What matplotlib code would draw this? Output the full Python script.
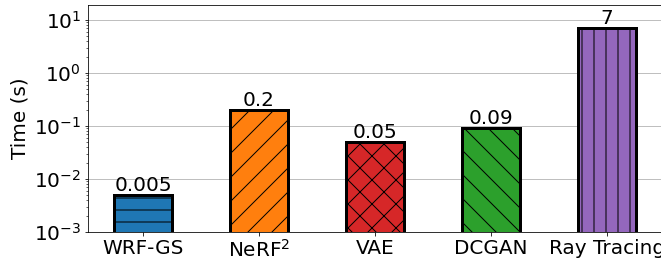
import matplotlib
matplotlib.use("Agg")
import matplotlib.pyplot as plt

methods = ["WRF-GS", "NeRF$^2$", "VAE", "DCGAN", "Ray Tracing"]
times = [0.005, 0.2, 0.05, 0.09, 7]
value_labels = ["0.005", "0.2", "0.05", "0.09", "7"]
colors = ["#1f77b4", "#ff7f0e", "#d62728", "#2ca02c", "#9467bd"]
hatches = ["-", "/", "x", "\\", "|"]

DPI = 72
FS = 20
fig = plt.figure(figsize=(661 / DPI, 261 / DPI), dpi=DPI)
ax = fig.add_axes([88 / 661, 29 / 261, (661 - 88) / 661 + 0.001, (232 - 5) / 261])

x = range(len(methods))
bars = ax.bar(x, times, width=0.5, color=colors, edgecolor="black",
              linewidth=3, zorder=3)
for b, h in zip(bars, hatches):
    b.set_hatch(h)

for b, lab in zip(bars, value_labels):
    ax.text(b.get_x() + b.get_width() / 2, b.get_height(), lab,
            ha="center", va="bottom", fontsize=FS, zorder=4)

ax.set_yscale("log")
ax.set_ylim(1e-3, 19.2)
ax.set_xlim(-0.475, 4.475)
ax.set_xticks(list(x))
ax.set_xticklabels(methods, fontsize=FS)
ax.tick_params(axis="y", labelsize=FS)
ax.set_ylabel("Time (s)", fontsize=FS)
ax.yaxis.grid(True, which="major", color="#b0b0b0", linewidth=0.8, zorder=0)
ax.set_axisbelow(True)

fig.savefig("out.png", dpi=DPI)
